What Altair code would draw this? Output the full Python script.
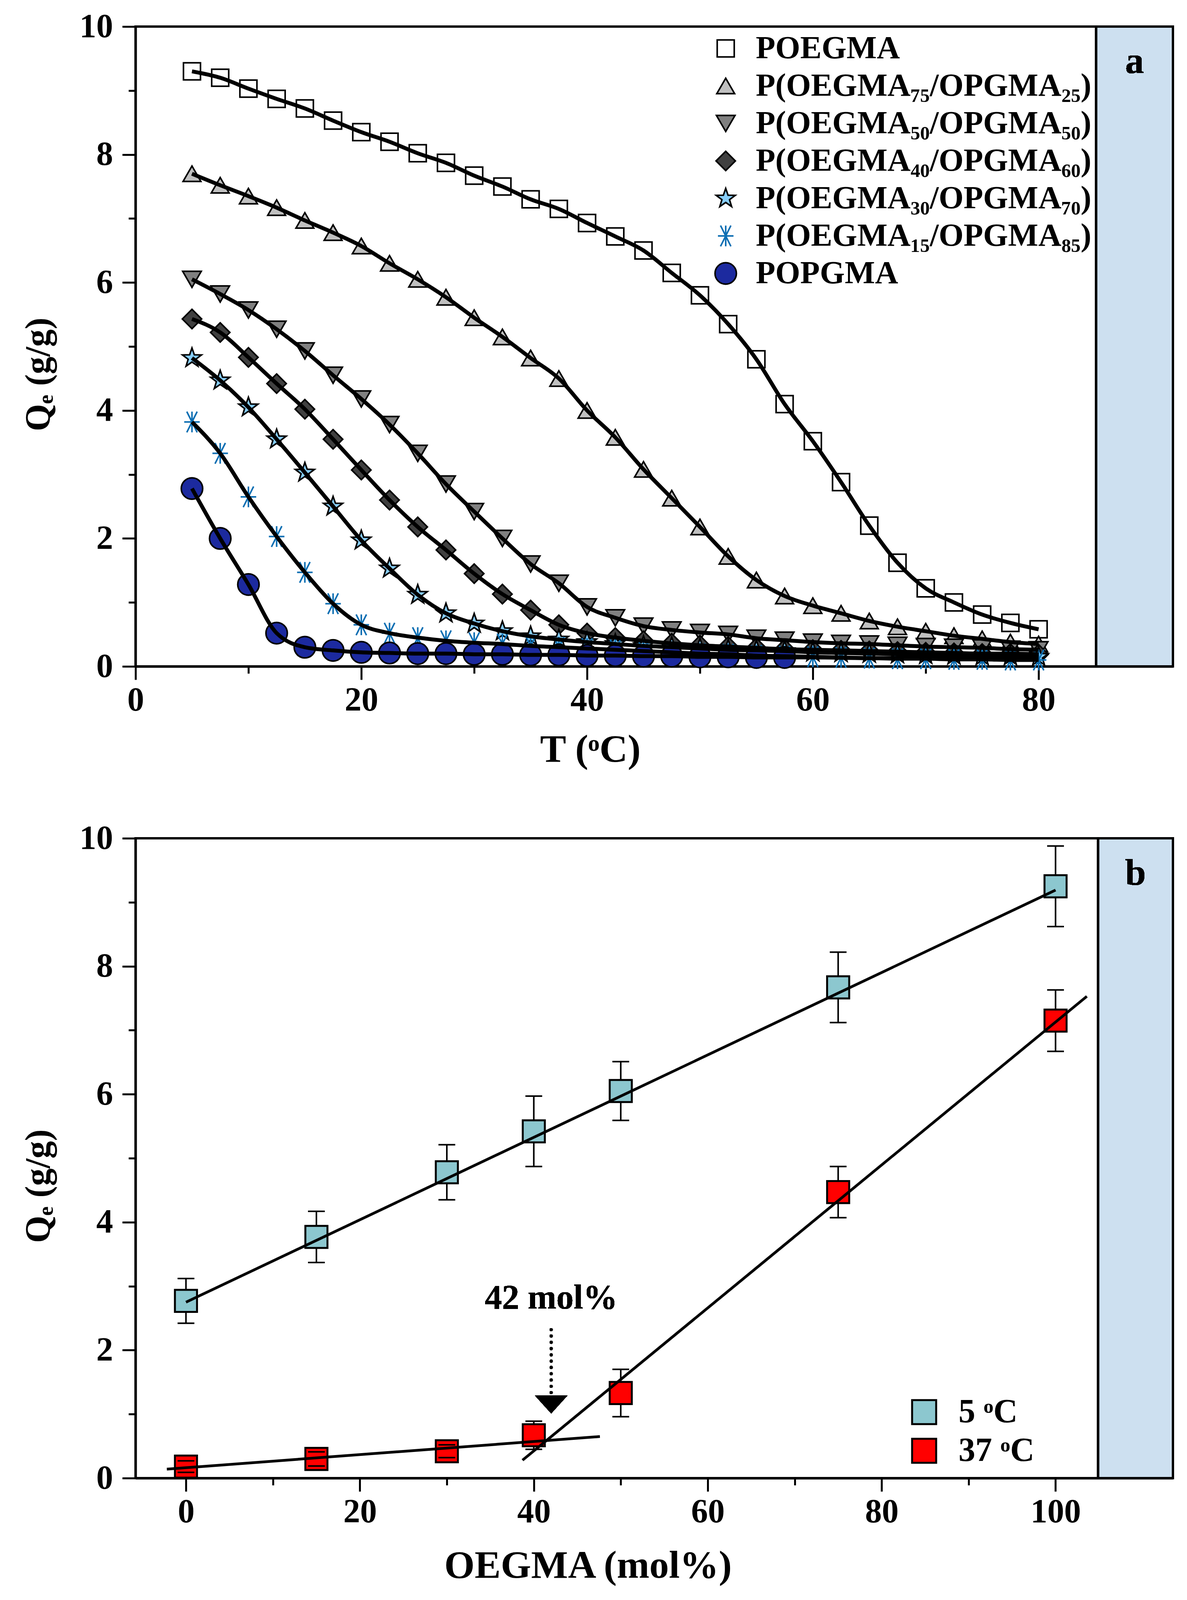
import math
import altair as alt
import pandas as pd

FONT = "Liberation Serif"

# ---------------- Panel a data ----------------
T = [5, 7.5, 10, 12.5, 15, 17.5, 20, 22.5, 25, 27.5, 30, 32.5, 35, 37.5, 40,
     42.5, 45, 47.5, 50, 52.5, 55, 57.5, 60, 62.5, 65, 67.5, 70, 72.5, 75, 77.5, 80]

poegma = [9.30, 9.20, 9.03, 8.87, 8.72, 8.53, 8.35, 8.20, 8.02, 7.87, 7.67, 7.50, 7.30, 7.15, 6.93,
          6.72, 6.50, 6.15, 5.80, 5.35, 4.80, 4.10, 3.52, 2.88, 2.20, 1.62, 1.22, 1.00, 0.81, 0.68, 0.58]
p75 = [7.70, 7.52, 7.35, 7.17, 6.97, 6.78, 6.57, 6.30, 6.05, 5.77, 5.45, 5.15, 4.82, 4.50, 4.00,
       3.58, 3.08, 2.63, 2.18, 1.72, 1.35, 1.10, 0.95, 0.83, 0.71, 0.62, 0.55, 0.48, 0.43, 0.38, 0.35]
p50 = [6.05, 5.82, 5.57, 5.27, 4.93, 4.55, 4.18, 3.78, 3.33, 2.85, 2.42, 2.00, 1.60, 1.30, 0.93,
       0.76, 0.63, 0.57, 0.53, 0.50, 0.44, 0.41, 0.38, 0.36, 0.35, 0.33, 0.31, 0.30, 0.29, 0.27, 0.26]
p40 = [5.43, 5.22, 4.83, 4.42, 4.02, 3.55, 3.07, 2.60, 2.18, 1.82, 1.45, 1.13, 0.88, 0.65, 0.52,
       0.45, 0.40, 0.36, 0.33, 0.31, 0.29, 0.27, 0.26, 0.25, 0.24, 0.23, 0.22, 0.21, 0.20, 0.20, 0.19]
p30 = [4.82, 4.47, 4.05, 3.55, 3.03, 2.50, 1.97, 1.53, 1.12, 0.83, 0.67, 0.55, 0.47, 0.42, 0.38,
       0.35, 0.32, 0.30, 0.28, 0.26, 0.25, 0.24, 0.22, 0.21, 0.20, 0.19, 0.18, 0.17, 0.16, 0.16, 0.15]
p15 = [3.82, 3.33, 2.65, 2.03, 1.47, 0.98, 0.65, 0.52, 0.45, 0.40, 0.37, 0.35, 0.32, 0.30, 0.28,
       0.26, 0.24, 0.22, 0.20, 0.19, 0.17, 0.16, 0.15, 0.14, 0.13, 0.12, 0.12, 0.11, 0.11, 0.10, 0.10]
T_popgma = [5, 7.5, 10, 12.5, 15, 17.5, 20, 22.5, 25, 27.5, 30, 32.5, 35, 37.5, 40,
            42.5, 45, 47.5, 50, 52.5, 55, 57.5]
popgma = [2.78, 2.00, 1.28, 0.52, 0.30, 0.25, 0.22, 0.21, 0.20, 0.20, 0.19, 0.19, 0.18, 0.18, 0.17,
          0.17, 0.16, 0.16, 0.15, 0.15, 0.14, 0.14]
# fitted-curve continuation of POPGMA beyond the last measured point
T_popgma_fit_tail = [60, 65, 70, 75, 80]
popgma_fit_tail = [0.14, 0.13, 0.13, 0.12, 0.12]

series_names = ["POEGMA",
                "P(OEGMA\u2087\u2085/OPGMA\u2082\u2085)",
                "P(OEGMA\u2085\u2080/OPGMA\u2085\u2080)",
                "P(OEGMA\u2084\u2080/OPGMA\u2086\u2080)",
                "P(OEGMA\u2083\u2080/OPGMA\u2087\u2080)",
                "P(OEGMA\u2081\u2085/OPGMA\u2088\u2085)",
                "POPGMA"]
series_T = [T, T, T, T, T, T, T_popgma]
series_Q = [poegma, p75, p50, p40, p30, p15, popgma]

rows = []
for name, ts, qs in zip(series_names, series_T, series_Q):
    for t, q in zip(ts, qs):
        rows.append({"series": name, "T": t, "Q": q})
pts_a = pd.DataFrame(rows)
fit_rows = list(rows)
for t, q in zip(T_popgma_fit_tail, popgma_fit_tail):
    fit_rows.append({"series": "POPGMA", "T": t, "Q": q})
fit_a = pd.DataFrame(fit_rows)

# ---------------- Panel b data ----------------
mol = [0, 15, 30, 40, 50, 75, 100]
q5 = [2.77, 3.77, 4.78, 5.42, 6.05, 7.67, 9.25]
e5 = [0.35, 0.40, 0.43, 0.55, 0.46, 0.55, 0.63]
q37 = [0.18, 0.30, 0.42, 0.67, 1.33, 4.47, 7.15]
e37 = [0.09, 0.11, 0.10, 0.22, 0.37, 0.40, 0.48]
temps = ["\u20075 \u1d52C", "37 \u1d52C"]

fit5_x, fit5_y = [0, 100], [2.75, 9.19]
fit37a_x, fit37a_y = [-2.2, 47.6], [0.14, 0.65]
fit37b_x, fit37b_y = [38.7, 103.6], [0.28, 7.53]

rows_b = []
for temp, qs, es in zip(temps, [q5, q37], [e5, e37]):
    for m, q, e in zip(mol, qs, es):
        rows_b.append({"temp": temp, "mol": m, "Q": q, "lo": q - e, "hi": q + e})
pts_b = pd.DataFrame(rows_b)
caps_b = pd.concat([
    pts_b[["temp", "mol"]].assign(cap=pts_b["lo"]),
    pts_b[["temp", "mol"]].assign(cap=pts_b["hi"]),
])
fit_rows_b = []
for name, xs, ys in [("5", fit5_x, fit5_y), ("37a", fit37a_x, fit37a_y), ("37b", fit37b_x, fit37b_y)]:
    for x, y in zip(xs, ys):
        fit_rows_b.append({"fit": name, "mol": x, "Q": y})
fit_b = pd.DataFrame(fit_rows_b)

# ---------------- styling ----------------
W, H = 2656, 1638
STRIP = "#cde0f0"
TICK_MAJOR, TICK_MINOR = 34, 18


def make_axis(values, every, title, tx, ty, is_x):
    kw = dict(
        values=values, title=title, grid=False, format="d",
        labelExpr=f"datum.value % {every} === 0 ? datum.label : ''",
        tickSize=alt.condition(f"datum.value % {every} === 0", alt.value(TICK_MAJOR), alt.value(TICK_MINOR)),
        tickWidth=5, tickColor="black", domainWidth=6, domainColor="black",
        labelFont=FONT, labelFontSize=86, labelFontWeight="bold", labelColor="black",
        titleFont=FONT, titleFontWeight="bold", titleColor="black",
        titleX=tx, titleY=ty, titleAlign="center", titleBaseline="middle",
    )
    if is_x:
        kw.update(labelPadding=52, labelBaseline="middle", labelFlush=False, titleFontSize=100)
    else:
        kw.update(labelPadding=24, titleAngle=270, titleFontSize=90)
    return alt.Axis(**kw)


star = []
for k in range(10):
    ang = math.pi * (-0.5 + k / 5)
    r = 1.0 if k % 2 == 0 else 0.4
    star.append(f"{r * math.cos(ang):.3f},{r * math.sin(ang):.3f}")
STAR = "M" + "L".join(star) + "Z"
ASTER = "M-0.75,0L0.75,0M0,-1L0,1M-0.5,-1L0.5,1M0.5,-1L-0.5,1"

# ---------------- Panel a ----------------
xdom_a = [0, 91.9]
ax_xa = make_axis([0, 10, 20, 30, 40, 50, 60, 70, 80], 20, "T (\u1d52C)", 1164, 213, True)
ax_ya = make_axis(list(range(0, 11)), 2, "Q\u2091 (g/g)", -248, 890, False)
xa = alt.X("T:Q", scale=alt.Scale(domain=xdom_a, nice=False, zero=False), axis=ax_xa)
ya = alt.Y("Q:Q", scale=alt.Scale(domain=[0, 10], nice=False), axis=ax_ya)

legend_a = alt.Legend(title=None, orient="none", legendX=1470, legendY=15, padding=0,
                      symbolStrokeWidth=4, labelFont=FONT, labelFontSize=82,
                      labelFontWeight="bold", labelColor="black", labelOffset=36, rowPadding=14,
                      labelLimit=0)
shape_range = ["square", "triangle-up", "triangle-down", "diamond", STAR, ASTER, "circle"]
fill_range = ["white", "#c0c0c0", "#808080", "#404040", "#87cefa", "transparent", "#1c2a9f"]
stroke_range = ["black", "black", "black", "black", "black", "#0e6fb3", "black"]
size_range = [1900, 3000, 3000, 3000, 2900, 2300, 2100]

strip_a = alt.Chart(pts_a).mark_rect(fill=STRIP, stroke="black", strokeWidth=6).encode(
    x=alt.datum(85.1), x2=alt.datum(91.9), y=alt.datum(0), y2=alt.datum(10))

points_a = alt.Chart(pts_a).mark_point(filled=True, strokeWidth=4, opacity=1).encode(
    x=xa, y=ya,
    shape=alt.Shape("series:N", scale=alt.Scale(domain=series_names, range=shape_range), legend=legend_a),
    fill=alt.Fill("series:N", scale=alt.Scale(domain=series_names, range=fill_range), legend=legend_a),
    stroke=alt.Stroke("series:N", scale=alt.Scale(domain=series_names, range=stroke_range), legend=legend_a),
    size=alt.Size("series:N", scale=alt.Scale(domain=series_names, range=size_range), legend=legend_a),
)
lines_a = alt.Chart(fit_a).mark_line(color="black", strokeWidth=10, interpolate="monotone").encode(
    x=xa, y=ya, detail="series:N")
label_a = alt.Chart(pts_a).mark_text(font=FONT, fontSize=96, fontWeight="bold", color="black").encode(
    x=alt.datum(88.5), y=alt.datum(9.45), text=alt.value("a"))

panel_a = alt.layer(strip_a, points_a, lines_a, label_a).properties(width=W, height=H)

# ---------------- Panel b ----------------
xdom_b = [-5.8, 113.5]
ax_xb = make_axis([0, 10, 20, 30, 40, 50, 60, 70, 80, 90, 100], 20, "OEGMA (mol%)", 1158, 224, True)
ax_yb = make_axis(list(range(0, 11)), 2, "Q\u2091 (g/g)", -248, 890, False)
xb = alt.X("mol:Q", scale=alt.Scale(domain=xdom_b, nice=False, zero=False), axis=ax_xb)
yb = alt.Y("Q:Q", scale=alt.Scale(domain=[0, 10], nice=False), axis=ax_yb)

legend_b = alt.Legend(title=None, orient="none", legendX=1976, legendY=1426, padding=0,
                      symbolType="square", symbolSize=3800, symbolStrokeWidth=5, symbolStrokeColor="black",
                      labelFont=FONT, labelFontSize=86, labelFontWeight="bold", labelColor="black",
                      labelOffset=45, rowPadding=13, labelLimit=0)

strip_b = alt.Chart(pts_b).mark_rect(fill=STRIP, stroke="black", strokeWidth=6).encode(
    x=alt.datum(104.9), x2=alt.datum(113.5), y=alt.datum(0), y2=alt.datum(10))
stems_b = alt.Chart(pts_b).mark_rule(color="black", strokeWidth=4).encode(
    x=xb, y=alt.Y("lo:Q", scale=alt.Scale(domain=[0, 10], nice=False), axis=ax_yb), y2="hi:Q")
squares_b = alt.Chart(pts_b).mark_point(shape="square", filled=True, size=3200, stroke="black",
                                        strokeWidth=5, opacity=1).encode(
    x=xb, y=yb,
    fill=alt.Fill("temp:N", scale=alt.Scale(domain=temps, range=["#8cc7cf", "#ff0000"]), legend=legend_b))
caps_layer = alt.Chart(caps_b).mark_tick(orient="horizontal", size=43, thickness=4, color="black", opacity=1).encode(
    x=xb, y=alt.Y("cap:Q", scale=alt.Scale(domain=[0, 10], nice=False), axis=ax_yb))
lines_b = alt.Chart(fit_b).mark_line(color="black", strokeWidth=7).encode(x=xb, y=yb, detail="fit:N")
arrow_line = alt.Chart(pts_b).mark_rule(color="black", strokeWidth=8, strokeDash=[0.1, 16],
                                        strokeCap="round").encode(
    x=alt.datum(42), y=alt.datum(2.32), y2=alt.datum(1.3))
arrow_head = alt.Chart(pts_b).mark_point(shape="M-1,-0.55L1,-0.55L0,0.55Z", filled=True, fill="black",
                                         size=6889, opacity=1, strokeWidth=0).encode(
    x=alt.datum(42), y=alt.datum(1.15))
arrow_text = alt.Chart(pts_b).mark_text(font=FONT, fontSize=88, fontWeight="bold", color="black").encode(
    x=alt.datum(42), y=alt.datum(2.81), text=alt.value("42 mol%"))
label_b = alt.Chart(pts_b).mark_text(font=FONT, fontSize=96, fontWeight="bold", color="black").encode(
    x=alt.datum(109.2), y=alt.datum(9.45), text=alt.value("b"))

panel_b = alt.layer(strip_b, stems_b, squares_b, caps_layer, lines_b, arrow_line, arrow_head,
                    arrow_text, label_b).properties(width=W, height=H)

chart = alt.vconcat(panel_a, panel_b, spacing=128).resolve_scale(
    fill="independent", shape="independent", stroke="independent", size="independent"
).resolve_legend(
    fill="independent", shape="independent", stroke="independent", size="independent"
).configure(
    padding={"left": 43, "top": 14, "right": 0, "bottom": 0}, font=FONT
).configure_view(stroke="black", strokeWidth=6)

chart.save("out.html", embed_options={"renderer": "svg", "actions": False})
